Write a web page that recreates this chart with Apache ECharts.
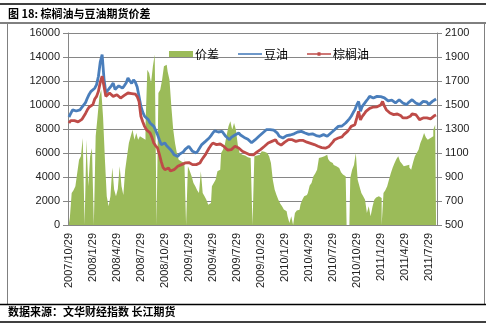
<!DOCTYPE html>
<html><head><meta charset="utf-8">
<script src="https://cdn.jsdelivr.net/npm/echarts@6/dist/echarts.min.js"></script>
<style>html,body{margin:0;padding:0;background:#fff}#c{width:486px;height:324px}</style>
</head><body><div id="c"></div>
<script>
// quarterly tick labels on the x axis
const tickLabels = ['2007/10/29','2008/1/29','2008/4/29','2008/7/29','2008/10/29','2009/1/29','2009/4/29','2009/7/29','2009/10/29','2010/1/29','2010/4/29','2010/7/29','2010/10/29','2011/1/29','2011/4/29','2011/7/29'];
const rightTickValues = [500,700,900,1100,1300,1500,1700,1900,2100];
const seriesNames = ['价差','豆油','棕榈油'];

// 豆油 (left axis)
const soybean = [
9000,9300,9600,9450,9500,9470,9600,9800,9900,10200,10580,10900,11140,11250,11400,11700,12400,13600,14200,12200,
11000,10900,11400,11600,11830,11300,11200,11600,11700,11400,11600,11830,12250,12000,11800,12100,11900,11500,10700,9900,
9400,9060,8900,8780,8500,8400,8220,7900,7530,7100,6700,6800,6830,6600,6500,6300,6100,5860,5800,5720,
5900,6000,6100,6300,6420,6560,6350,6140,6050,6000,6200,6450,6700,6850,6970,7100,7250,7450,7670,7850,
7940,7750,7670,7800,7600,7390,7250,7110,7300,7390,7500,7600,7670,7500,7390,7300,7250,7150,7000,6850,
6950,7110,7250,7390,7550,7670,7800,7940,8080,7950,7800,7900,7940,7650,7390,7300,7250,7390,7450,7530,
7500,7530,7600,7670,7750,7800,7800,7750,7670,7600,7550,7650,7600,7530,7450,7390,7390,7450,7530,7450,
7390,7500,7670,7800,7940,8100,8220,8200,8250,8360,8500,8640,8850,9060,9350,9610,10000,10300,9470,9890,
10100,10300,10500,10720,10650,10580,10650,10720,10580,10700,10860,10600,10440,10350,10300,10400,10440,10170,10300,10440,
10300,10170,10100,10030,10200,10300,10440,10300,10170,10100,10030,10150,10300,10300,10250,10030,10150,10300,10400,10500];

// 棕榈油 (left axis)
const palm = [
8500,8700,8830,8700,8640,8600,8640,8800,8920,9300,9600,9830,9950,10030,10500,10720,11140,11900,12400,11560,
10720,10800,11000,10850,10720,10800,10860,10700,10580,10720,10800,10860,11000,11140,10950,10860,10900,10700,10300,9060,
8600,8220,7950,7800,7670,7300,6830,6600,6420,5900,5300,4800,4610,4700,4750,4500,4470,4610,4750,4890,
4950,5030,5100,5170,5300,5200,5100,5030,5000,5030,5100,5170,5440,5650,5860,6150,6420,6650,6830,6750,
6700,6700,6750,6700,6550,6420,6250,6140,6280,6400,6560,6500,6420,6300,6140,6050,6000,5900,5860,5720,
5850,6000,6100,6140,6300,6420,6560,6700,6830,6900,6970,7050,7110,6850,6700,6650,6700,6900,6970,7110,
7100,7110,7050,6970,6970,7050,7110,7050,6970,6900,6830,6800,6700,6700,6600,6560,6500,6450,6420,6400,
6420,6550,6700,6900,7110,7200,7250,7250,7350,7530,7650,7800,8000,8220,8300,8360,8900,9470,8750,9060,
9250,9470,9600,9720,9800,9830,9830,9850,9830,10000,10300,9900,9610,9450,9330,9250,9200,9200,9250,9330,
9100,8920,8900,8920,9000,9060,9250,9330,9200,9000,8780,8850,8920,8950,8920,8780,8850,9000,9100,9170];

// 价差 (right axis); null = no column that day
const spread = [
515,560,767,790,822,933,1044,1072,1225,null,1210,822,1072,1140,null,1239,1400,1570,1628,1400,
1050,739,656,739,980,795,739,800,989,822,750,961,1072,1183,1239,1294,1211,1267,1211,1239,
1225,1211,1322,1794,1765,1683,1820,1920,null,1600,1628,1710,1822,1836,1780,1710,1489,1300,1183,1100,
1044,1030,1017,1072,null,989,950,906,850,822,790,767,947,767,740,711,669,683,822,850,
878,947,961,1100,1128,1170,1250,1322,1364,1294,1350,1294,1170,1100,1086,1080,1072,1065,1058,1044,
null,1072,1080,1086,1100,1114,1110,1100,1085,1072,1017,878,795,750,711,680,656,630,614,572,
517,572,null,600,620,628,670,711,739,750,767,830,850,906,930,961,1058,1065,1072,1080,
1086,1050,1030,1017,1000,989,975,961,940,920,906,null,null,892,961,1000,1100,878,820,767,
740,711,600,656,572,650,711,730,739,725,null,767,790,822,880,933,980,1017,1050,1072,
1030,1010,989,995,1003,980,961,1020,1072,1100,1128,1183,1220,1267,1230,1211,1225,1239,1294,1336];

// weekly categories: 13 per quarter, starting at each quarterly label date
const categories = [];
for (let i = 0; i < soybean.length; i++) {
  const q = Math.floor(i / 13), w = i % 13;
  if (w === 0) { categories.push(tickLabels[q]); continue; }
  const p = tickLabels[q].split('/');
  const d = new Date(+p[0], +p[1] - 1, +p[2] + 7 * w);
  categories.push(d.getFullYear() + '/' + (d.getMonth() + 1) + '/' + d.getDate());
}
// empty columns sit on the axis floor, giving a one-column white gap
const spreadColumns = spread.map(v => (v === null ? rightTickValues[0] : v));

const axisGray = '#868686';
const fontNum = 'Liberation Sans, Arial, sans-serif';
const fontCJK = '"Noto Sans CJK SC", sans-serif';
const plain = v => String(v);
const green = '#9BBB59', blue = '#4A7EBB', red = '#BE4B48';

const chart = echarts.init(document.getElementById('c'), null, {renderer: 'canvas'});
chart.setOption({
  animation: false,
  backgroundColor: '#fff',
  textStyle: {fontFamily: fontNum},
  grid: {left: 68, right: 49, top: 33, bottom: 99, containLabel: false},
  legend: {
    data: [
      {name: seriesNames[0], icon: 'rect', itemStyle: {color: green}},
      {name: seriesNames[1], icon: 'path://M0,0M24,6M0,2.2H24V3.8H0Z'},
      {name: seriesNames[2], icon: 'path://M0,0M24,6M0,2.2H24V3.8H0Z M10.5,1.2H13.5V4.8H10.5Z'}
    ],
    left: 164, top: 43, itemWidth: 24, itemHeight: 6, itemGap: 19,
    textStyle: {fontFamily: fontCJK, fontSize: 12, color: '#000', padding: [0,0,0,-3]}
  },
  xAxis: {
    type: 'category', data: categories, boundaryGap: true,
    axisLine: {lineStyle: {color: axisGray}},
    axisTick: {interval: 12, length: 5, lineStyle: {color: axisGray}},
    axisLabel: {interval: 12, rotate: 90, fontSize: 11, color: '#222', margin: 8, fontFamily: fontNum},
    splitLine: {show: false}
  },
  yAxis: [
    {
      type: 'value', min: 0, max: 16000, interval: 2000, position: 'left',
      axisLine: {show: true, lineStyle: {color: axisGray}},
      axisTick: {show: true, length: 5, lineStyle: {color: axisGray}},
      axisLabel: {fontSize: 11, color: '#222', margin: 8, fontFamily: fontNum, formatter: plain},
      splitLine: {show: true, lineStyle: {color: axisGray, width: 1}}
    },
    {
      type: 'value', min: 500, max: 2100, position: 'right',
      axisLine: {show: true, lineStyle: {color: axisGray}},
      axisTick: {show: true, length: 5, lineStyle: {color: axisGray}, customValues: rightTickValues},
      axisLabel: {fontSize: 11, color: '#222', margin: 8, fontFamily: fontNum, customValues: rightTickValues, formatter: plain},
      splitLine: {show: false}
    }
  ],
  series: [
    {
      // price-difference columns drawn edge to edge (one column per category)
      name: seriesNames[0], type: 'line', step: 'middle', yAxisIndex: 1, data: spreadColumns,
      symbol: 'none', showSymbol: false,
      lineStyle: {width: 0, color: green}, itemStyle: {color: green},
      areaStyle: {color: green, opacity: 1, origin: 'start'}, z: 1
    },
    {
      name: seriesNames[1], type: 'line', yAxisIndex: 0, data: soybean,
      symbol: 'none', showSymbol: false, lineStyle: {color: blue, width: 2.8}, itemStyle: {color: blue}, z: 3
    },
    {
      name: seriesNames[2], type: 'line', yAxisIndex: 0, data: palm,
      symbol: 'none', showSymbol: false,
      lineStyle: {color: red, width: 2.8}, itemStyle: {color: red}, z: 4
    }
  ],
  graphic: [
    {type: 'line', shape: {x1: 0, y1: 4, x2: 486, y2: 4}, style: {stroke: '#000', lineWidth: 1.5}, silent: true},
    {type: 'text', left: 8, top: 8, style: {text: '图 18: 棕榈油与豆油期货价差', fill: '#000', font: 'bold 11px "Noto Sans CJK SC", sans-serif'}},
    {type: 'line', shape: {x1: 0, y1: 23, x2: 486, y2: 23}, style: {stroke: '#000', lineWidth: 1}, silent: true},
    {type: 'line', shape: {x1: 7.5, y1: 23, x2: 7.5, y2: 304}, style: {stroke: '#808080', lineWidth: 1}, silent: true},
    {type: 'line', shape: {x1: 484.5, y1: 23, x2: 484.5, y2: 304}, style: {stroke: '#808080', lineWidth: 1}, silent: true},
    {type: 'line', shape: {x1: 0, y1: 304.5, x2: 486, y2: 304.5}, style: {stroke: '#000', lineWidth: 1.5}, silent: true},
    {type: 'text', left: 8, top: 306, style: {text: '数据来源：文华财经指数 长江期货', fill: '#000', font: 'bold 11px "Noto Sans CJK SC", sans-serif'}},
    {type: 'line', shape: {x1: 0, y1: 322, x2: 486, y2: 322}, style: {stroke: '#000', lineWidth: 1.5}, silent: true}
  ]
});
</script>
</body></html>
